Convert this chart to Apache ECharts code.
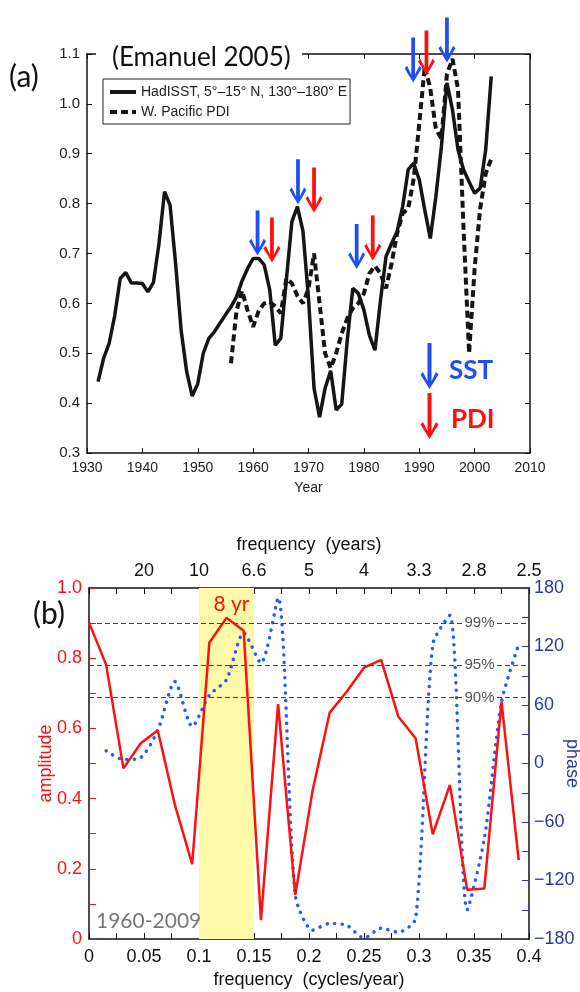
<!DOCTYPE html>
<html>
<head>
<meta charset="utf-8">
<script src="https://cdn.jsdelivr.net/npm/echarts@6/dist/echarts.min.js"></script>
<style>html,body{margin:0;padding:0;background:#fff}#chart{width:580px;height:992px}</style>
</head>
<body>
<div id="chart"></div>
<script>
// ---- panel (a): annual SST and PDI (Emanuel 2005) ----
var sstStart = 1932;
var sst = [0.443, 0.49, 0.52, 0.575, 0.65, 0.662, 0.641, 0.641, 0.640, 0.623,
           0.642, 0.72, 0.824, 0.797, 0.68, 0.546, 0.463, 0.414, 0.439, 0.50,
           0.53, 0.543, 0.56, 0.577, 0.593, 0.613, 0.645, 0.67, 0.69, 0.69,
           0.677, 0.627, 0.516, 0.53, 0.647, 0.764, 0.794, 0.745, 0.61, 0.43,
           0.372, 0.43, 0.465, 0.386, 0.398, 0.526, 0.63, 0.62, 0.587, 0.536,
           0.506, 0.606, 0.694, 0.72, 0.744, 0.794, 0.868, 0.881, 0.848, 0.787,
           0.73, 0.814, 0.914, 1.042, 0.988, 0.908, 0.868, 0.844, 0.821, 0.831,
           0.908, 1.055];
var pdiStart = 1956;
var pdi = [0.48, 0.585, 0.625, 0.586, 0.553, 0.585, 0.60, 0.603, 0.594, 0.58,
           0.65, 0.64, 0.615, 0.60, 0.63, 0.70, 0.60, 0.50, 0.47, 0.50,
           0.54, 0.57, 0.59, 0.60, 0.62, 0.66, 0.675, 0.66, 0.63, 0.68,
           0.74, 0.78, 0.79, 0.85, 0.96, 1.075, 1.03, 0.95, 0.93, 1.06,
           1.09, 1.03, 0.75, 0.50, 0.67, 0.79, 0.86, 0.89];
// years where PDI lags SST (shaded)
var fillWindows = [[1963, 1966], [1970, 1974], [1979, 1984], [1989, 1998]];
// arrow tips [year, value]
var sstArrows = [[1960.8, 0.697], [1968.1, 0.80], [1978.7, 0.67], [1988.9, 1.044], [1995.0, 1.084]];
var pdiArrows = [[1963.4, 0.683], [1971.0, 0.783], [1981.6, 0.687], [1991.3, 1.058], [1996.8, 1.102]];

// ---- panel (b): cross spectrum 1960-2009 ----
var freq = [0, 0.0156, 0.0313, 0.0469, 0.0625, 0.0781, 0.0938, 0.1094, 0.125, 0.1406,
            0.1563, 0.1719, 0.1875, 0.2031, 0.2188, 0.2344, 0.25, 0.2656, 0.2813, 0.2969,
            0.3125, 0.3281, 0.3438, 0.3594, 0.375, 0.3906];
var amplitude = [0.902, 0.781, 0.486, 0.557, 0.595, 0.382, 0.213, 0.844, 0.915, 0.878,
                 0.054, 0.669, 0.125, 0.42, 0.645, 0.705, 0.773, 0.795, 0.633, 0.572,
                 0.298, 0.439, 0.14, 0.144, 0.676, 0.225];
var phase = [null, 13, 4, 6, 34, 84, 38, 70, 86, 134,
             103, 170, -135, -171, -164, -166, -179, -169, -173, -159,
             122, 152, -150, -77, 63, 122];
var periodLabels = ['', '20', '10', '6.6', '5', '4', '3.3', '2.8', '2.5'];
var sigLevels = [0.9, 0.78, 0.687];
var sigLabels = ['99%', '95%', '90%'];

var sstName = 'HadISST, 5°–15° N, 130°–180° E';
var pdiName = 'W. Pacific PDI';
var arrowShape = [[6.5, 0], [10.5, 0], [10.5, 38], [15, 29], [17.5, 31.5], [8.5, 46], [-0.5, 31.5], [2, 29], [6.5, 38]];
var arrowPath = 'path://M' + arrowShape.map(function (p) { return p.join(','); }).join(' L') + ' Z';
var BLUE = '#1f4ff0', RED = '#ff0f0f', NAVY = '#2a37a5';
var sans = 'Liberation Sans';

var sstData = sst.map(function (v, i) { return [sstStart + i, v]; });
var pdiData = pdi.map(function (v, i) { return [pdiStart + i, v]; });

function inWindow(y) {
  for (var k = 0; k < fillWindows.length; k++) {
    if (y >= fillWindows[k][0] && y <= fillWindows[k][1]) return true;
  }
  return false;
}
var fillBase = [], fillBand = [];
pdi.forEach(function (p, i) {
  var yr = pdiStart + i;
  var s = sst[yr - sstStart];
  if (inWindow(yr)) {
    fillBase.push([yr, s]);
    fillBand.push([yr, Math.max(0, p - s)]);
  } else {
    fillBase.push([yr, '-']);
    fillBand.push([yr, '-']);
  }
});

function arrowPoints(list, color) {
  return list.map(function (a) {
    return { coord: a, symbol: arrowPath, symbolSize: [17, 45], symbolOffset: [0, -22],
             itemStyle: { color: color }, label: { show: false } };
  });
}
function keyArrow(x, y, color) {
  return { type: 'polygon', x: x, y: y, z: 51, shape: { points: arrowShape }, style: { fill: color } };
}

var axisBlack = { onZero: false, lineStyle: { color: '#111', width: 1.5 } };

var myChart = echarts.init(document.getElementById('chart'));
var option = {
  animation: false,
  backgroundColor: '#fff',
  grid: [
    { left: 87, top: 54, width: 443, height: 399, outerBoundsMode: 'none', containLabel: false },
    { left: 89, top: 588, width: 440, height: 351, outerBoundsMode: 'none', containLabel: false }
  ],
  legend: {
    data: [sstName, pdiName],
    left: 103, top: 79, orient: 'vertical',
    itemWidth: 26, itemHeight: 10, itemGap: 6,
    borderColor: '#222', borderWidth: 1, padding: [6, 3, 5, 5],
    itemStyle: { opacity: 0 },
    lineStyle: { width: 4 },
    textStyle: { fontFamily: sans, fontSize: 14, color: '#222' },
    selectedMode: false
  },
  xAxis: [
    { gridIndex: 0, type: 'value', min: 1930, max: 2010, interval: 10,
      axisLine: axisBlack, splitLine: { show: false },
      axisTick: { inside: true, length: 5, lineStyle: { color: '#111' } },
      axisLabel: { fontFamily: sans, fontSize: 14, color: '#222', margin: 8,
        formatter: function (v) { return String(v); } },
      name: 'Year', nameLocation: 'middle', nameGap: 28, nameMoveOverlap: false,
      nameTextStyle: { fontFamily: sans, fontSize: 14, color: '#222' } },
    { gridIndex: 0, type: 'value', position: 'top', min: 1930, max: 2010, interval: 10,
      axisLine: axisBlack, splitLine: { show: false },
      axisTick: { inside: true, length: 5, lineStyle: { color: '#111' } },
      axisLabel: { show: false } },
    { gridIndex: 1, type: 'value', min: 0, max: 0.4, interval: 0.05,
      axisLine: axisBlack, splitLine: { show: false },
      axisTick: { inside: true, length: 6, lineStyle: { color: '#111' } },
      minorTick: { show: true, splitNumber: 2, length: 6, lineStyle: { color: '#111' } },
      axisLabel: { fontFamily: sans, fontSize: 18, color: '#111', margin: 9,
        formatter: function (v) { return v === 0 ? '0' : String(+v.toFixed(2)); } },
      name: 'frequency  (cycles/year)', nameLocation: 'middle', nameGap: 32, nameMoveOverlap: false,
      nameTextStyle: { fontFamily: sans, fontSize: 18, color: '#111' } },
    { gridIndex: 1, type: 'value', position: 'top', min: 0, max: 0.4, interval: 0.05,
      axisLine: axisBlack, splitLine: { show: false },
      axisTick: { inside: true, length: 6, lineStyle: { color: '#111' } },
      minorTick: { show: true, splitNumber: 2, length: 6, lineStyle: { color: '#111' } },
      axisLabel: { fontFamily: sans, fontSize: 18, color: '#111', margin: 8,
        formatter: function (v) { return periodLabels[Math.round(v / 0.05)]; } },
      name: 'frequency  (years)', nameLocation: 'middle', nameGap: 34, nameMoveOverlap: false,
      nameTextStyle: { fontFamily: sans, fontSize: 18, color: '#111' } }
  ],
  yAxis: [
    { gridIndex: 0, type: 'value', min: 0.3, max: 1.1, interval: 0.1,
      axisLine: axisBlack, splitLine: { show: false },
      axisTick: { inside: true, length: 5, lineStyle: { color: '#111' } },
      axisLabel: { fontFamily: sans, fontSize: 15, color: '#222', margin: 7,
        formatter: function (v) { return v.toFixed(1); } } },
    { gridIndex: 0, type: 'value', position: 'right', min: 0.3, max: 1.1, interval: 0.1,
      axisLine: axisBlack, splitLine: { show: false },
      axisTick: { inside: true, length: 5, lineStyle: { color: '#111' } },
      axisLabel: { show: false } },
    { gridIndex: 1, type: 'value', min: 0, max: 1, interval: 0.2,
      axisLine: axisBlack, splitLine: { show: false },
      axisTick: { inside: true, length: 7, lineStyle: { color: RED } },
      minorTick: { show: true, splitNumber: 2, length: 7, lineStyle: { color: RED } },
      axisLabel: { fontFamily: sans, fontSize: 18, color: RED, margin: 7,
        formatter: function (v) { return v === 0 ? '0' : v.toFixed(1); } },
      name: 'amplitude', nameLocation: 'middle', nameGap: 34, nameMoveOverlap: false,
      nameTextStyle: { fontFamily: sans, fontSize: 18, color: RED } },
    { gridIndex: 1, type: 'value', position: 'right', min: -180, max: 180, interval: 60,
      axisLine: axisBlack, splitLine: { show: false },
      axisTick: { inside: true, length: 7, lineStyle: { color: NAVY } },
      minorTick: { show: true, splitNumber: 2, length: 7, lineStyle: { color: NAVY } },
      axisLabel: { fontFamily: sans, fontSize: 18, color: NAVY, margin: 5,
        formatter: function (v) { return v < 0 ? '\u2212' + (-v) : String(v); } },
      name: 'phase', nameLocation: 'middle', nameGap: 34, nameRotate: -90, nameMoveOverlap: false,
      nameTextStyle: { fontFamily: sans, fontSize: 18, color: NAVY } }
  ],
  series: [
    { name: 'fillBase', type: 'line', xAxisIndex: 0, yAxisIndex: 0, data: fillBase,
      stack: 'lag', symbol: 'none', lineStyle: { opacity: 0 }, z: 1, silent: true },
    { name: 'fillBand', type: 'line', xAxisIndex: 0, yAxisIndex: 0, data: fillBand,
      stack: 'lag', symbol: 'none', lineStyle: { opacity: 0 },
      areaStyle: { color: '#fbf29a', opacity: 1 }, z: 1, silent: true },
    { name: pdiName, type: 'line', xAxisIndex: 0, yAxisIndex: 0, data: pdiData,
      symbol: 'none', z: 3,
      lineStyle: { color: '#151515', width: 4, type: [7, 4] },
      itemStyle: { color: '#151515' } },
    { name: sstName, type: 'line', xAxisIndex: 0, yAxisIndex: 0, data: sstData,
      symbol: 'none', z: 4,
      lineStyle: { color: '#151515', width: 3.5 },
      itemStyle: { color: '#151515' },
      markPoint: { silent: true, data: arrowPoints(sstArrows, BLUE).concat(arrowPoints(pdiArrows, RED)) } },

    { name: 'band', type: 'line', xAxisIndex: 2, yAxisIndex: 2, data: [], z: 0, silent: true,
      markArea: { silent: true, itemStyle: { color: '#fffaa8' },
        label: { show: true, position: 'insideTop', distance: 6, offset: [5, 0], color: RED, fontFamily: 'Lato', fontSize: 21 },
        data: [[{ xAxis: 0.1, name: '8 yr' }, { xAxis: 0.15 }]] } },
    { name: 'sig', type: 'line', xAxisIndex: 2, yAxisIndex: 2, data: [], z: 2, silent: true,
      markLine: { silent: true, symbol: 'none', label: { show: false },
        lineStyle: { color: '#444', width: 1, type: [5, 3] },
        data: sigLevels.map(function (v) { return { yAxis: v }; }) } },
    { name: 'phase', type: 'line', xAxisIndex: 2, yAxisIndex: 3,
      data: freq.map(function (f, i) { return [f, phase[i]]; }),
      symbol: 'none', smooth: 0.25, z: 3,
      lineStyle: { color: '#1f5cff', width: 3.5, type: [0.1, 7.5], cap: 'round' } },
    { name: 'amplitude', type: 'line', xAxisIndex: 2, yAxisIndex: 2,
      data: freq.map(function (f, i) { return [f, amplitude[i]]; }),
      symbol: 'none', z: 4,
      lineStyle: { color: RED, width: 2.5 } },
    { name: 'sigLabels', type: 'line', xAxisIndex: 2, yAxisIndex: 2, data: [], z: 6, silent: true,
      markPoint: { silent: true, symbol: 'rect', symbolSize: [34, 14],
        itemStyle: { color: '#fff' },
        label: { show: true, position: 'inside', color: '#555', fontFamily: sans, fontSize: 15 },
        data: sigLevels.map(function (v, i) { return { coord: [0.355, v], value: sigLabels[i] }; }) } }
  ],
  graphic: [
    { type: 'rect', shape: { x: 96, y: 48, width: 206, height: 12 }, style: { fill: '#fff' }, z: 50 },
    { type: 'text', x: 112, y: 58, z: 51,
      style: { text: '(Emanuel 2005)', font: '26px Lato', fill: '#111', verticalAlign: 'middle' } },
    { type: 'text', x: 9, y: 77, z: 51,
      style: { text: '(a)', font: '30px Lato', fill: '#111', verticalAlign: 'middle' } },
    { type: 'text', x: 33, y: 614, z: 51,
      style: { text: '(b)', font: '30px Lato', fill: '#111', verticalAlign: 'middle' } },
    keyArrow(421, 343, BLUE),
    keyArrow(421, 393, RED),
    { type: 'text', x: 449, y: 371, z: 51,
      style: { text: 'SST', font: 'bold 26px Lato', fill: BLUE, verticalAlign: 'middle' } },
    { type: 'text', x: 451, y: 420, z: 51,
      style: { text: 'PDI', font: 'bold 26px Lato', fill: RED, verticalAlign: 'middle' } },
    { type: 'text', x: 96, y: 921, z: 51,
      style: { text: '1960-2009', font: '21px Lato', fill: '#777', verticalAlign: 'middle' } }
  ]
};
myChart.setOption(option);
</script>
</body>
</html>
